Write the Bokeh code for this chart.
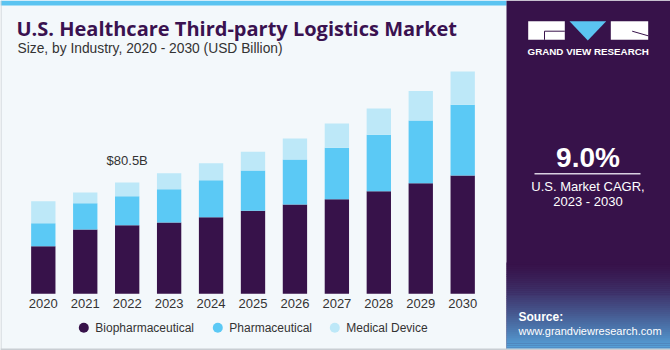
from bokeh.plotting import figure
from bokeh.models import ColumnDataSource, Range1d
from bokeh.core.properties import value
from bokeh.embed import file_html
from bokeh.resources import INLINE

# ---------------- data ----------------
years = [2020, 2021, 2022, 2023, 2024, 2025, 2026, 2027, 2028, 2029, 2030]
year_labels = [str(y) for y in years]
biopharmaceutical = [34.4, 46.5, 49.6, 51.6, 55.4, 60.0, 64.6, 68.4, 74.2, 80.0, 85.6]
pharmaceutical = [16.6, 19.0, 21.0, 24.1, 26.8, 29.1, 32.5, 37.2, 40.8, 45.4, 51.1]
medical_device = [15.9, 7.7, 9.9, 11.4, 12.3, 13.7, 15.2, 17.6, 19.0, 21.2, 24.1]
series_names = ["Biopharmaceutical", "Pharmaceutical", "Medical Device"]
series_colors = ["#37124A", "#5BC9F5", "#BDE8F8"]
annot_year = 2022
annot_text = "$80.5B"
cagr_text = "9.0%"

W, H = 670, 350
BG = "#F3F8FB"
PANEL = "#37124A"
TITLE_C = "#3A1250"
TXT = "#333333"

# pixel geometry of the plot area
x0_px, step_px = 42.8, 41.94          # centre of first bar, spacing
base_px = 293.3                        # baseline (from top)
k = 80.5 / 111.3                       # value per pixel

x_start = years[0] - x0_px / step_px
x_end = x_start + W / step_px
y_start = -(H - base_px) * k
y_end = y_start + H * k

p = figure(width=W, height=H, output_backend="svg", toolbar_location=None,
           x_range=Range1d(x_start, x_end), y_range=Range1d(y_start, y_end),
           x_axis_type=None, y_axis_type=None, min_border=0,
           background_fill_color=BG, border_fill_color=BG,
           outline_line_color=None)
p.grid.visible = False
p.extra_x_ranges = {"px": Range1d(0, W)}
p.extra_y_ranges = {"px": Range1d(H, 0)}
PX = dict(x_range_name="px", y_range_name="px")

# top strip
p.quad(left=[0], right=[506], top=[0], bottom=[5], color="#5BC4F1", line_color=None, **PX)

# bars
src = ColumnDataSource(dict(year=years, bio=biopharmaceutical, pharma=pharmaceutical,
                            med=medical_device))
p.vbar_stack(["bio", "pharma", "med"], x="year", width=0.58, color=series_colors,
             line_color=None, source=src)

# year labels
p.text(x=years, y=[0] * len(years), text=year_labels, y_offset=9.6,
       text_align="center", text_baseline="middle", text_color=TXT,
       text_font=value("Liberation Sans"), text_font_size="13px")

# annotation
idx = years.index(annot_year)
tot = biopharmaceutical[idx] + pharmaceutical[idx] + medical_device[idx]
p.text(x=[annot_year], y=[tot], text=[annot_text], y_offset=-22,
       text_align="center", text_baseline="middle", text_color=TXT,
       text_font=value("Liberation Sans"), text_font_size="13px")

# title & subtitle
p.text(x=[16], y=[28], text=["U.S. Healthcare Third-party Logistics Market"],
       text_baseline="middle", text_color=TITLE_C, text_font=value("Open Sans"),
       text_font_style="bold", text_font_size="20px", **PX)
p.text(x=[17], y=[48], text=["Size, by Industry, 2020 - 2030 (USD Billion)"],
       text_baseline="middle", text_color=TXT, text_font=value("Liberation Sans"),
       text_font_size="13.8px", **PX)

# legend
leg_x = [83.3, 217.3, 334.3]
p.scatter(x=leg_x, y=[327.3] * 3, size=10, color=series_colors, line_color=None, **PX)
p.text(x=[x + 11.5 for x in leg_x], y=[327.3] * 3, text=series_names,
       text_baseline="middle", text_color=TXT, text_font=value("Liberation Sans"),
       text_font_size="12px", **PX)

# right panel
p.quad(left=[506], right=[W], top=[0], bottom=[H], color=PANEL, line_color=None, **PX)
# bottom gradient
def mix(c1, c2, t):
    a = [int(c1[i:i + 2], 16) for i in (1, 3, 5)]
    b = [int(c2[i:i + 2], 16) for i in (1, 3, 5)]
    return "#%02x%02x%02x" % tuple(round(a[j] + (b[j] - a[j]) * t) for j in range(3))
g_top, g_bot = 262.0, 349.0
n = 44
tops, bots, cols = [], [], []
for i in range(n):
    t0 = g_top + (g_bot - g_top) * i / n
    t1 = g_top + (g_bot - g_top) * (i + 1) / n
    f = (i + 0.5) / n
    tops.append(t0); bots.append(t1 + 0.3)
    cols.append(mix(PANEL, "#56A6DD", f ** 1.4))
p.quad(left=[506] * n, right=[W] * n, top=tops, bottom=bots, color=cols,
       line_color=None, **PX)

# logo
p.quad(left=[527.7, 610.3], right=[564.3, 647.7], top=[20.7, 20.7], bottom=[39.3, 39.3],
       color="white", line_color=None, **PX)
p.patch(x=[569, 605.7, 587.3], y=[20.7, 20.7, 40], color="#5BC4F1", line_color=None, **PX)
p.line(x=[564.3, 544, 544], y=[30.7, 30.7, 39.3], line_color=PANEL, line_width=1, **PX)
p.line(x=[631.7, 647.7], y=[30.7, 35.3], line_color=PANEL, line_width=1, **PX)
p.text(x=[587.7], y=[51.3], text=["GRAND VIEW RESEARCH"], text_align="center",
       text_baseline="middle", text_color="white", text_font=value("Liberation Sans"),
       text_font_style="bold", text_font_size="9.8px", **PX)

# CAGR
p.text(x=[587.5], y=[157], text=[cagr_text], text_align="center", text_baseline="middle",
       text_color="white", text_font=value("Liberation Sans"), text_font_style="bold",
       text_font_size="28px", **PX)
p.line(x=[534, 640], y=[173.3, 173.3], line_color="#D8D0E0", line_width=1.5, **PX)
p.text(x=[587.5, 587.5], y=[185.7, 201], text=["U.S. Market CAGR,", "2023 - 2030"],
       text_align="center", text_baseline="middle", text_color="white",
       text_font=value("Liberation Sans"), text_font_size="13px", **PX)

# source
p.text(x=[518], y=[316], text=["Source:"], text_baseline="middle", text_color="white",
       text_font=value("Liberation Sans"), text_font_style="bold", text_font_size="12px", **PX)
p.text(x=[518], y=[330], text=["www.grandviewresearch.com"], text_baseline="middle",
       text_color="white", text_font=value("Liberation Sans"), text_font_size="11px", **PX)

# borders
p.line(x=[0.5, 0.5], y=[0, H], line_color="#C9CED3", line_width=1, **PX)
p.line(x=[0, W], y=[348.8, 348.8], line_color="#C9CED3", line_width=1.5, **PX)

open("out.html", "w").write(file_html(p, INLINE))
